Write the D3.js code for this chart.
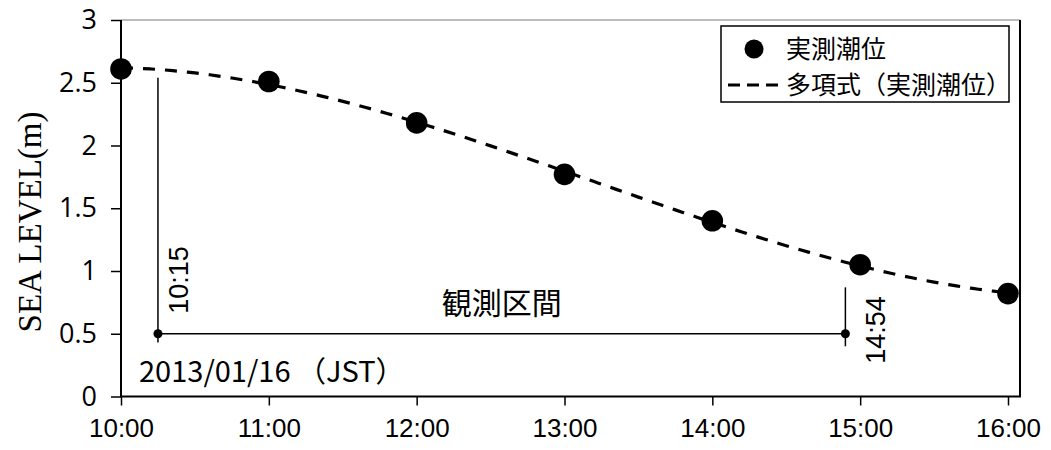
<!DOCTYPE html>
<html>
<head>
<meta charset="utf-8">
<script src="https://cdn.jsdelivr.net/npm/d3@7"></script>
<style>
  html, body { margin: 0; padding: 0; background: #fff; }
  svg { display: block; }
</style>
</head>
<body>
<svg id="chart" width="1051" height="450"></svg>
<script>
// Observed tide levels, 2013/01/16 (JST)
const times = ["10:00", "11:00", "12:00", "13:00", "14:00", "15:00", "16:00"];
const levels = [2.61, 2.51, 2.18, 1.77, 1.40, 1.05, 0.82];

// Axis ticks
const xTickLabels = ["10:00", "11:00", "12:00", "13:00", "14:00", "15:00", "16:00"];
const yTicks = [0, 0.5, 1, 1.5, 2, 2.5, 3];
const yTickLabels = ["0", "0.5", "1", "1.5", "2", "2.5", "3"];

// Observation interval markers
const spanTimes = ["10:15", "14:54"];
const spanLevel = 0.5;
const startGuide = [0.43, 2.54];
const endGuide = [0.40, 0.87];

const legendLabels = ["実測潮位", "多項式（実測潮位）"];
const spanLabel = "観測区間";
const dateLabel = "2013/01/16 （JST）";
const yTitle = "SEA LEVEL(m)";

const toHours = s => { const [h, m] = s.split(":").map(Number); return h + m / 60; };

const svg = d3.select("#chart");
const plotLeft = 121, plotRight = 1020, plotTop = 20, plotBottom = 396.5;

const x = d3.scaleLinear().domain([10, 16]).range([plotLeft, 1008]);
const y = d3.scaleLinear().domain([0, 3]).range([plotBottom, plotTop]);

// Plot frame: grey top edge, black right edge
svg.append("line").attr("x1", plotLeft).attr("x2", plotRight).attr("y1", plotTop).attr("y2", plotTop)
  .attr("stroke", "#a6a6a6").attr("stroke-width", 1.5);
svg.append("line").attr("x1", plotRight).attr("x2", plotRight).attr("y1", plotTop).attr("y2", plotBottom)
  .attr("stroke", "#000").attr("stroke-width", 2);

// Y axis
const yAxis = d3.axisLeft(y).tickValues(yTicks)
  .tickFormat((d, i) => yTickLabels[i]).tickSize(10).tickSizeOuter(0).tickPadding(14);
const gy = svg.append("g").attr("transform", `translate(${plotLeft},0)`).call(yAxis);
gy.select(".domain").attr("stroke-width", 2).attr("d", `M0,${plotTop}V${plotBottom}`);
gy.selectAll(".tick line").attr("stroke-width", 1.5);
gy.selectAll(".tick text").attr("font-family", "'Open Sans', sans-serif")
  .attr("font-size", 27).attr("fill", "#000");

// X axis
const xAxis = d3.axisBottom(x).tickValues(xTickLabels.map(toHours))
  .tickFormat((d, i) => xTickLabels[i]).tickSize(9).tickSizeOuter(0).tickPadding(13);
const gx = svg.append("g").attr("transform", `translate(0,${plotBottom})`).call(xAxis);
gx.select(".domain").attr("stroke-width", 2).attr("d", `M${plotLeft - 1},0H${plotRight + 1}`);
gx.selectAll(".tick line").attr("stroke-width", 1.5);
gx.selectAll(".tick text").attr("font-family", "'Liberation Sans', Arial, sans-serif")
  .attr("font-size", 26).attr("fill", "#000");

// Y axis title
svg.append("text")
  .attr("transform", `translate(41,222) rotate(-90)`)
  .attr("text-anchor", "middle")
  .attr("font-family", "'Liberation Serif', 'Times New Roman', serif")
  .attr("font-size", 33)
  .text(yTitle);

// Cubic least-squares trend of the observed levels
const pts = times.map((t, i) => [toHours(t) - 10, levels[i]]);
function polyFit(data, order) {
  const n = order + 1;
  const A = Array.from({ length: n }, () => new Array(n + 1).fill(0));
  data.forEach(([u, v]) => {
    for (let r = 0; r < n; r++) {
      for (let c = 0; c < n; c++) A[r][c] += Math.pow(u, r + c);
      A[r][n] += v * Math.pow(u, r);
    }
  });
  for (let i = 0; i < n; i++) {
    let p = i;
    for (let k = i + 1; k < n; k++) if (Math.abs(A[k][i]) > Math.abs(A[p][i])) p = k;
    [A[i], A[p]] = [A[p], A[i]];
    for (let k = i + 1; k < n; k++) {
      const f = A[k][i] / A[i][i];
      for (let c = i; c <= n; c++) A[k][c] -= f * A[i][c];
    }
  }
  const coef = new Array(n).fill(0);
  for (let i = n - 1; i >= 0; i--) {
    let s = A[i][n];
    for (let c = i + 1; c < n; c++) s -= A[i][c] * coef[c];
    coef[i] = s / A[i][i];
  }
  return u => coef.reduce((acc, a, k) => acc + a * Math.pow(u, k), 0);
}
const trend = polyFit(pts, 3);
const trendPts = d3.range(0, 6.0001, 0.05).map(u => [u + 10, trend(u)]);

svg.append("path")
  .datum(trendPts)
  .attr("d", d3.line().x(d => x(d[0])).y(d => y(d[1])).curve(d3.curveMonotoneX))
  .attr("fill", "none").attr("stroke", "#000").attr("stroke-width", 3.2)
  .attr("stroke-dasharray", "12,10");

// Observation interval annotation
const t0 = toHours(spanTimes[0]), t1 = toHours(spanTimes[1]);
const ann = svg.append("g").attr("stroke", "#000").attr("stroke-width", 1.5);
ann.append("line").attr("x1", x(t0)).attr("x2", x(t0)).attr("y1", y(startGuide[0])).attr("y2", y(startGuide[1]));
ann.append("line").attr("x1", x(t1)).attr("x2", x(t1)).attr("y1", y(endGuide[0])).attr("y2", y(endGuide[1]));
ann.append("line").attr("x1", x(t0)).attr("x2", x(t1)).attr("y1", y(spanLevel)).attr("y2", y(spanLevel));
svg.selectAll(".span-dot").data([t0, t1]).join("circle")
  .attr("cx", d => x(d)).attr("cy", y(spanLevel)).attr("r", 4.5).attr("fill", "#000");

svg.append("text")
  .attr("transform", `translate(${x(t0) + 30},${y(spanLevel) - 20}) rotate(-90)`)
  .attr("font-family", "'Liberation Sans', Arial, sans-serif").attr("font-size", 27)
  .text(spanTimes[0]);
svg.append("text")
  .attr("transform", `translate(${x(t1) + 40},${y(spanLevel) + 30}) rotate(-90)`)
  .attr("font-family", "'Liberation Sans', Arial, sans-serif").attr("font-size", 27)
  .text(spanTimes[1]);
svg.append("text")
  .attr("x", (x(t0) + x(t1)) / 2).attr("y", 314)
  .attr("text-anchor", "middle")
  .attr("font-family", "'Noto Sans CJK JP', sans-serif").attr("font-size", 30)
  .text(spanLabel);
svg.append("text")
  .attr("x", 139).attr("y", 382)
  .attr("font-family", "'Noto Sans CJK JP', sans-serif").attr("font-size", 29)
  .text(dateLabel);

// Observed points
svg.selectAll(".obs").data(pts).join("circle")
  .attr("cx", d => x(d[0] + 10)).attr("cy", d => y(d[1]))
  .attr("r", 10.8).attr("fill", "#000");

// Legend
const lg = svg.append("g");
lg.append("rect").attr("x", 721).attr("y", 26).attr("width", 288).attr("height", 76)
  .attr("fill", "#fff").attr("stroke", "#000").attr("stroke-width", 1.5);
lg.append("circle").attr("cx", 754).attr("cy", 49).attr("r", 9.5).attr("fill", "#000");
lg.append("line").attr("x1", 728).attr("x2", 785).attr("y1", 85).attr("y2", 85)
  .attr("stroke", "#000").attr("stroke-width", 3.2).attr("stroke-dasharray", "12,7");
lg.selectAll(".lg-text").data(legendLabels).join("text")
  .attr("x", 786).attr("y", (d, i) => 58 + i * 36)
  .attr("font-family", "'Noto Sans CJK JP', sans-serif").attr("font-size", 25)
  .text(d => d);
</script>
</body>
</html>
